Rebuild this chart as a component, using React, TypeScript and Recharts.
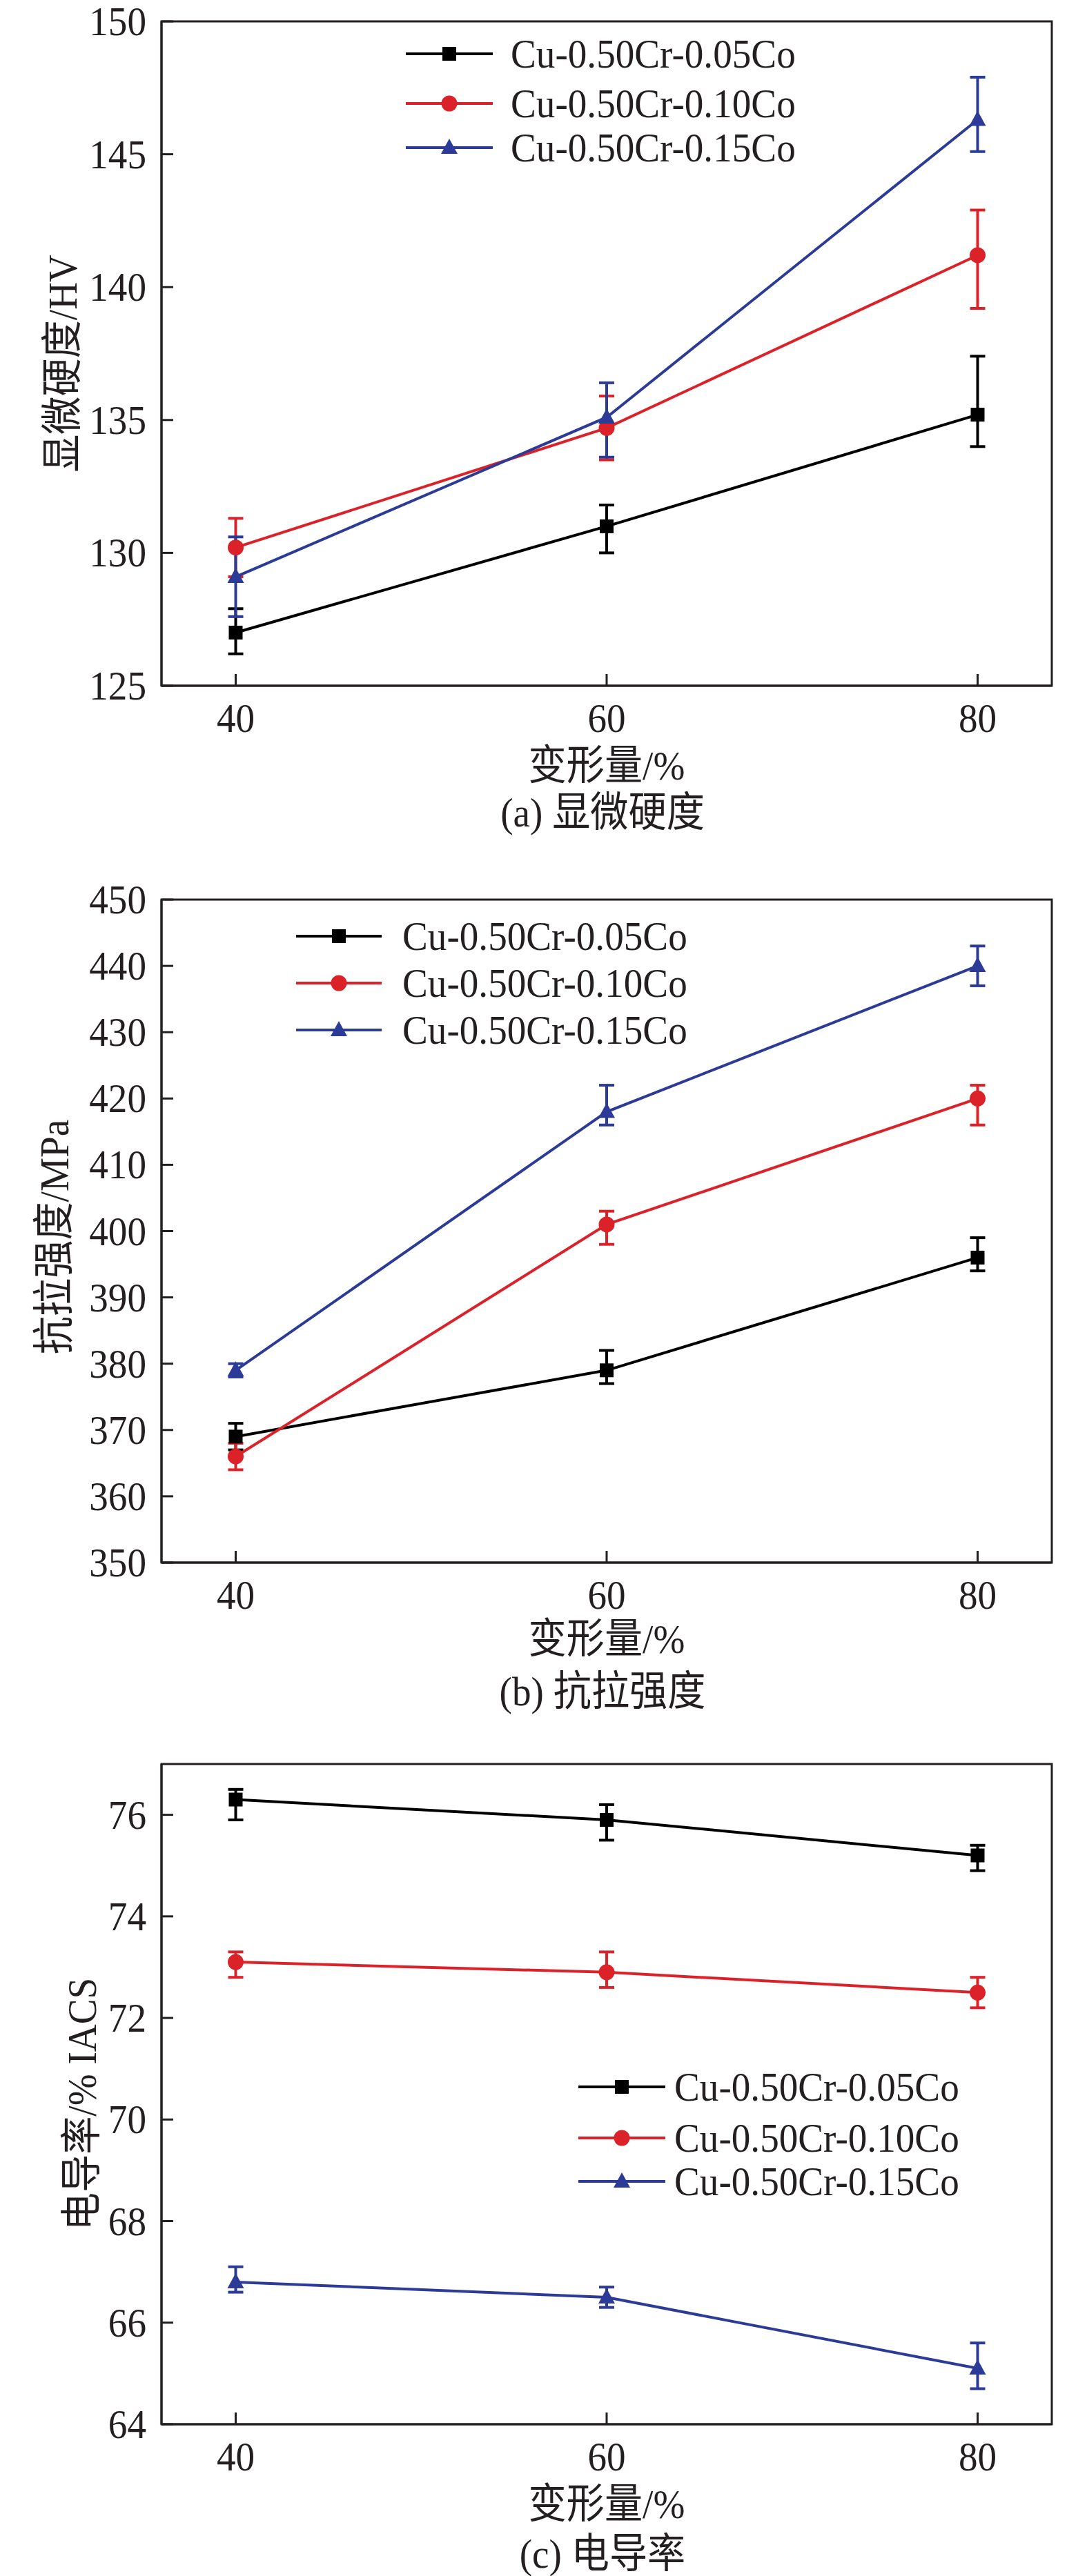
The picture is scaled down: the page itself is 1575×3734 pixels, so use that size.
import { LineChart, Line, XAxis, YAxis, ErrorBar, ReferenceArea } from 'recharts'

// deformation (%) on the x axis
const strain = [40, 60, 80]
const strainTicks = [40, 60, 80]
const seriesNames = ['Cu-0.50Cr-0.05Co', 'Cu-0.50Cr-0.10Co', 'Cu-0.50Cr-0.15Co']

// (a) microhardness, HV — error bars are [minus, plus]
const hv005 = [127.0, 131.0, 135.2]
const hv010 = [130.2, 134.7, 141.2]
const hv015 = [129.1, 135.1, 146.3]
const hvErr005 = [[0.8, 0.9], [1.0, 0.8], [1.2, 2.2]]
const hvErr010 = [[1.1, 1.1], [1.2, 1.2], [2.0, 1.7]]
const hvErr015 = [[1.5, 1.5], [1.5, 1.3], [1.2, 1.6]]
const hvTicks = [125, 130, 135, 140, 145, 150]

// (b) tensile strength, MPa
const uts005 = [369, 379, 396]
const uts010 = [366, 401, 420]
const uts015 = [379, 418, 440]
const utsErr005 = [[2, 2], [2, 3], [2, 3]]
const utsErr010 = [[2, 2], [3, 2], [4, 2]]
const utsErr015 = [[1, 1], [2, 4], [3, 3]]
const utsTicks = [350, 360, 370, 380, 390, 400, 410, 420, 430, 440, 450]

// (c) conductivity, %IACS
const iacs005 = [76.3, 75.9, 75.2]
const iacs010 = [73.1, 72.9, 72.5]
const iacs015 = [66.8, 66.5, 65.1]
const iacsErr005 = [[0.4, 0.2], [0.4, 0.3], [0.3, 0.2]]
const iacsErr010 = [[0.3, 0.2], [0.3, 0.4], [0.3, 0.3]]
const iacsErr015 = [[0.2, 0.3], [0.2, 0.2], [0.4, 0.5]]
const iacsTicks = [64, 66, 68, 70, 72, 74, 76]

const colors = ['#000000', '#dc2229', '#2b3b97']
const shapes = ['square', 'circle', 'triangle']
const ink = '#231f20'
const font = "'Liberation Serif', 'Times New Roman', 'Noto Sans CJK SC', serif"
const FS = 60
const W = 1575
const PLOT_LEFT = 234
const PLOT_RIGHT = 1524

// slightly condensed text, like the scanned figure
function SText({ x, y, anchor = 'start', dy = 0, rotate = 0, children }: any) {
  return (
    <text
      transform={`translate(${x} ${y}) rotate(${rotate}) scale(0.92 1)`}
      x={0}
      y={0}
      dy={dy}
      textAnchor={anchor}
      fontFamily={font}
      fontSize={FS}
      fill={ink}
    >
      {children}
    </text>
  )
}

function Marker({ shape, cx, cy, color }: { shape: string; cx: number; cy: number; color: string }) {
  if (shape === 'square') return <rect x={cx - 10} y={cy - 10} width={20} height={20} fill={color} />
  if (shape === 'circle') return <circle cx={cx} cy={cy} r={11.5} fill={color} />
  return <path d={`M${cx},${cy - 13} L${cx + 12},${cy + 9} L${cx - 12},${cy + 9} Z`} fill={color} />
}

const YTick = (props: any) => {
  const { x, y, payload } = props
  return (
    <g>
      <line x1={x} y1={y} x2={x + 17} y2={y} stroke={ink} strokeWidth={3} />
      <SText x={x - 22} y={y} dy={20} anchor="end">{payload.value}</SText>
    </g>
  )
}

const XTick = (props: any) => {
  const { x, y, payload } = props
  return (
    <g>
      <line x1={x} y1={y} x2={x} y2={y - 17} stroke={ink} strokeWidth={3} />
      <SText x={x} y={y + 67} anchor="middle">{payload.value}</SText>
    </g>
  )
}

interface PanelProps {
  height: number
  plotTop: number
  plotBottom: number
  values: number[][]
  errors: number[][][]
  domain: [number, number]
  ticks: number[]
  yLabel: string
  yLabelAt: [number, number]
  xLabelY: number
  caption: string
  captionY: number
  legend: { x1: number; x2: number; tx: number; rows: number[] }
}

function Panel(p: PanelProps) {
  const data = strain.map((x, i) => ({
    x,
    v0: p.values[0][i], e0: p.errors[0][i],
    v1: p.values[1][i], e1: p.errors[1][i],
    v2: p.values[2][i], e2: p.errors[2][i],
  }))
  const cx = (PLOT_LEFT + PLOT_RIGHT) / 2

  return (
    <div style={{ position: 'relative', width: W, height: p.height }}>
      <LineChart
        width={W}
        height={p.height}
        data={data}
        margin={{ top: p.plotTop, right: W - PLOT_RIGHT, left: 0, bottom: 0 }}
      >
        <XAxis
          dataKey="x"
          type="number"
          domain={[36, 84]}
          ticks={strainTicks}
          interval={0}
          allowDataOverflow
          height={p.height - p.plotBottom}
          tickSize={0}
          tickMargin={0}
          tickLine={false}
          tick={<XTick />}
          axisLine={{ stroke: ink, strokeWidth: 3 }}
        />
        <YAxis
          type="number"
          domain={p.domain}
          ticks={p.ticks}
          interval={0}
          allowDataOverflow
          width={PLOT_LEFT}
          tickSize={0}
          tickMargin={0}
          tickLine={false}
          tick={<YTick />}
          axisLine={{ stroke: ink, strokeWidth: 3 }}
        />
        <ReferenceArea
          x1={36}
          x2={84}
          y1={p.domain[0]}
          y2={p.domain[1]}
          fill="none"
          fillOpacity={0}
          stroke={ink}
          strokeWidth={3}
          ifOverflow="visible"
        />
        {[0, 1, 2].map(k => (
          <Line
            key={k}
            dataKey={`v${k}`}
            stroke={colors[k]}
            strokeWidth={4}
            isAnimationActive={false}
            activeDot={false}
            dot={(d: any) => (
              <Marker key={`m${k}-${d.index}`} shape={shapes[k]} cx={d.cx} cy={d.cy} color={colors[k]} />
            )}
          >
            <ErrorBar dataKey={`e${k}`} direction="y" width={11} stroke={colors[k]} strokeWidth={4} />
          </Line>
        ))}
      </LineChart>
      <svg
        width={W}
        height={p.height}
        style={{ position: 'absolute', left: 0, top: 0, pointerEvents: 'none' }}
      >
        {seriesNames.map((name, k) => {
          const y = p.legend.rows[k]
          return (
            <g key={name}>
              <line x1={p.legend.x1} y1={y} x2={p.legend.x2} y2={y} stroke={colors[k]} strokeWidth={4} />
              <Marker shape={shapes[k]} cx={(p.legend.x1 + p.legend.x2) / 2} cy={y} color={colors[k]} />
              <SText x={p.legend.tx} y={y} dy={20}>{name}</SText>
            </g>
          )
        })}
        <SText x={p.yLabelAt[0]} y={p.yLabelAt[1]} dy={20} rotate={-90} anchor="middle">
          {p.yLabel}
        </SText>
        <SText x={cx} y={p.xLabelY} dy={20} anchor="middle">变形量/%</SText>
        <SText x={cx - 6} y={p.captionY} dy={20} anchor="middle">{p.caption}</SText>
      </svg>
    </div>
  )
}

export default function App() {
  return (
    <div style={{ position: 'absolute', left: 0, top: 0, width: W, background: '#fff' }}>
      <Panel
        height={1250}
        plotTop={31}
        plotBottom={994}
        values={[hv005, hv010, hv015]}
        errors={[hvErr005, hvErr010, hvErr015]}
        domain={[125, 150]}
        ticks={hvTicks}
        yLabel="显微硬度/HV"
        yLabelAt={[91, 527]}
        xLabelY={1110}
        caption="(a) 显微硬度"
        captionY={1178}
        legend={{ x1: 588, x2: 714, tx: 740, rows: [78, 150, 214] }}
      />
      <Panel
        height={1250}
        plotTop={54}
        plotBottom={1015}
        values={[uts005, uts010, uts015]}
        errors={[utsErr005, utsErr010, utsErr015]}
        domain={[350, 450]}
        ticks={utsTicks}
        yLabel="抗拉强度/MPa"
        yLabelAt={[79, 543]}
        xLabelY={1126}
        caption="(b) 抗拉强度"
        captionY={1202}
        legend={{ x1: 429, x2: 553, tx: 583, rows: [107, 175, 243] }}
      />
      <Panel
        height={1234}
        plotTop={57}
        plotBottom={1014}
        values={[iacs005, iacs010, iacs015]}
        errors={[iacsErr005, iacsErr010, iacsErr015]}
        domain={[64, 77]}
        ticks={iacsTicks}
        yLabel="电导率/% IACS"
        yLabelAt={[119, 550]}
        xLabelY={1130}
        caption="(c) 电导率"
        captionY={1202}
        legend={{ x1: 838, x2: 964, tx: 977, rows: [525, 599, 662] }}
      />
    </div>
  )
}
